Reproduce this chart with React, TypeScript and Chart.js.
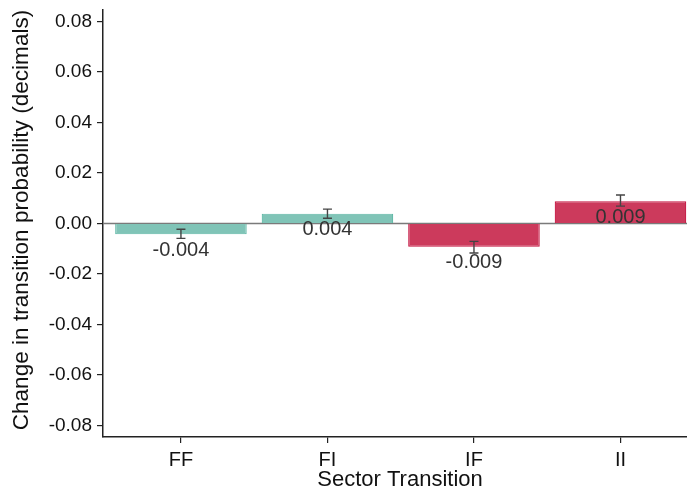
import React, { useEffect, useRef } from "react";
import { Chart, registerables } from "chart.js";

Chart.register(...registerables);

const categories = ["FF", "FI", "IF", "II"];
const values = [-0.0043, 0.0039, -0.0092, 0.0088];
const valueLabels = ["-0.004", "0.004", "-0.009", "0.009"];
const errLow = [-0.0059, 0.0021, -0.0117, 0.0069];
const errHigh = [-0.0023, 0.0057, -0.0071, 0.0113];
const yTicks = [-0.08, -0.06, -0.04, -0.02, 0, 0.02, 0.04, 0.06, 0.08];
const fillColors = ["#80c4b7", "#80c4b7", "#cc3a5c", "#cc3a5c"];
const borderColors = ["#5fb8a6", "#5fb8a6", "#c4123f", "#c4123f"];
const xTitle = "Sector Transition";
const yTitle = "Change in transition probability (decimals)";

const FONT = "'Liberation Sans', Arial, sans-serif";

const overlayPlugin = {
  id: "overlay",
  beforeDatasetsDraw(chart: any) {
    const { ctx, chartArea, scales } = chart;
    const y0 = scales.y.getPixelForValue(0);
    ctx.save();
    ctx.strokeStyle = "#7a7a7a";
    ctx.lineWidth = 1.5;
    ctx.beginPath();
    ctx.moveTo(chartArea.left, y0);
    ctx.lineTo(chartArea.right, y0);
    ctx.stroke();
    ctx.restore();
  },
  afterDatasetsDraw(chart: any) {
    const { ctx, scales } = chart;
    const xs = scales.x;
    const ys = scales.y;
    ctx.save();
    ctx.strokeStyle = "#444";
    ctx.lineWidth = 1.4;
    categories.forEach((_, i) => {
      const x = xs.getPixelForValue(i);
      const yl = ys.getPixelForValue(errLow[i]);
      const yh = ys.getPixelForValue(errHigh[i]);
      ctx.beginPath();
      ctx.moveTo(x, yl);
      ctx.lineTo(x, yh);
      ctx.moveTo(x - 4.5, yl);
      ctx.lineTo(x + 4.5, yl);
      ctx.moveTo(x - 4.5, yh);
      ctx.lineTo(x + 4.5, yh);
      ctx.stroke();
    });
    ctx.fillStyle = "#333";
    ctx.font = `20px ${FONT}`;
    ctx.textAlign = "center";
    ctx.textBaseline = "middle";
    categories.forEach((_, i) => {
      const x = xs.getPixelForValue(i);
      const y = ys.getPixelForValue(values[i]) + 16;
      ctx.fillText(valueLabels[i], x, y);
    });
    ctx.restore();
  },
  afterDraw(chart: any) {
    const { ctx } = chart;
    ctx.save();
    ctx.fillStyle = "#111";
    ctx.textAlign = "center";
    ctx.textBaseline = "middle";
    ctx.font = `22px ${FONT}`;
    ctx.fillText(xTitle, 400, 480);
    ctx.translate(22, 220);
    ctx.rotate(-Math.PI / 2);
    ctx.font = `22.6px ${FONT}`;
    ctx.fillText(yTitle, 0, 0);
    ctx.restore();
  },
};

export default function App() {
  const ref = useRef<HTMLCanvasElement>(null);
  useEffect(() => {
    if (!ref.current) return;
    const chart = new Chart(ref.current, {
      type: "bar",
      data: {
        datasets: [
          {
            data: values.map((v, i) => ({ x: i, y: v })),
            backgroundColor: fillColors,
            borderColor: borderColors,
            borderWidth: 1.2,
            categoryPercentage: 1,
            barPercentage: 0.898,
          } as any,
        ],
      },
      options: {
        animation: false,
        responsive: false,
        layout: { padding: { top: 10, left: 0, right: 0, bottom: 0 } },
        plugins: {
          legend: { display: false },
          tooltip: { enabled: false },
        },
        scales: {
          x: {
            type: "linear",
            min: -0.532,
            max: 3.454,
            offset: false,
            grid: {
              offset: false,
              drawOnChartArea: false,
              drawTicks: true,
              tickLength: 6,
              color: "#222",
              lineWidth: 1.2,
            },
            border: { display: true, color: "#222", width: 1.5 },
            afterBuildTicks: (s: any) => {
              s.ticks = categories.map((_, i) => ({ value: i }));
            },
            afterFit: (s: any) => {
              s.height = 53;
              s.paddingLeft = 0;
              s.paddingRight = 0;
            },
            ticks: {
              autoSkip: false,
              maxRotation: 0,
              padding: 5,
              color: "#111",
              font: { family: FONT, size: 20 },
              callback: (v: any) => categories[v] ?? "",
            },
          } as any,
          y: {
            type: "linear",
            min: -0.0846,
            max: 0.0846,
            grid: {
              drawOnChartArea: false,
              drawTicks: true,
              tickLength: 6,
              color: "#222",
              lineWidth: 1.2,
            },
            border: { display: true, color: "#222", width: 1.5 },
            afterBuildTicks: (s: any) => {
              s.ticks = yTicks.map((v) => ({ value: v }));
            },
            afterFit: (s: any) => {
              s.width = 103;
              s.paddingTop = 0;
              s.paddingBottom = 0;
            },
            ticks: {
              padding: 5,
              color: "#111",
              font: { family: FONT, size: 19 },
              callback: (v: any) => Number(v).toFixed(2),
            },
          } as any,
        },
      },
      plugins: [overlayPlugin],
    });
    return () => chart.destroy();
  }, []);
  return (
    <div style={{ position: "fixed", left: 0, top: 0, width: 687, height: 490, background: "#fff" }}>
      <canvas ref={ref} width={687} height={490} style={{ display: "block" }} />
    </div>
  );
}
